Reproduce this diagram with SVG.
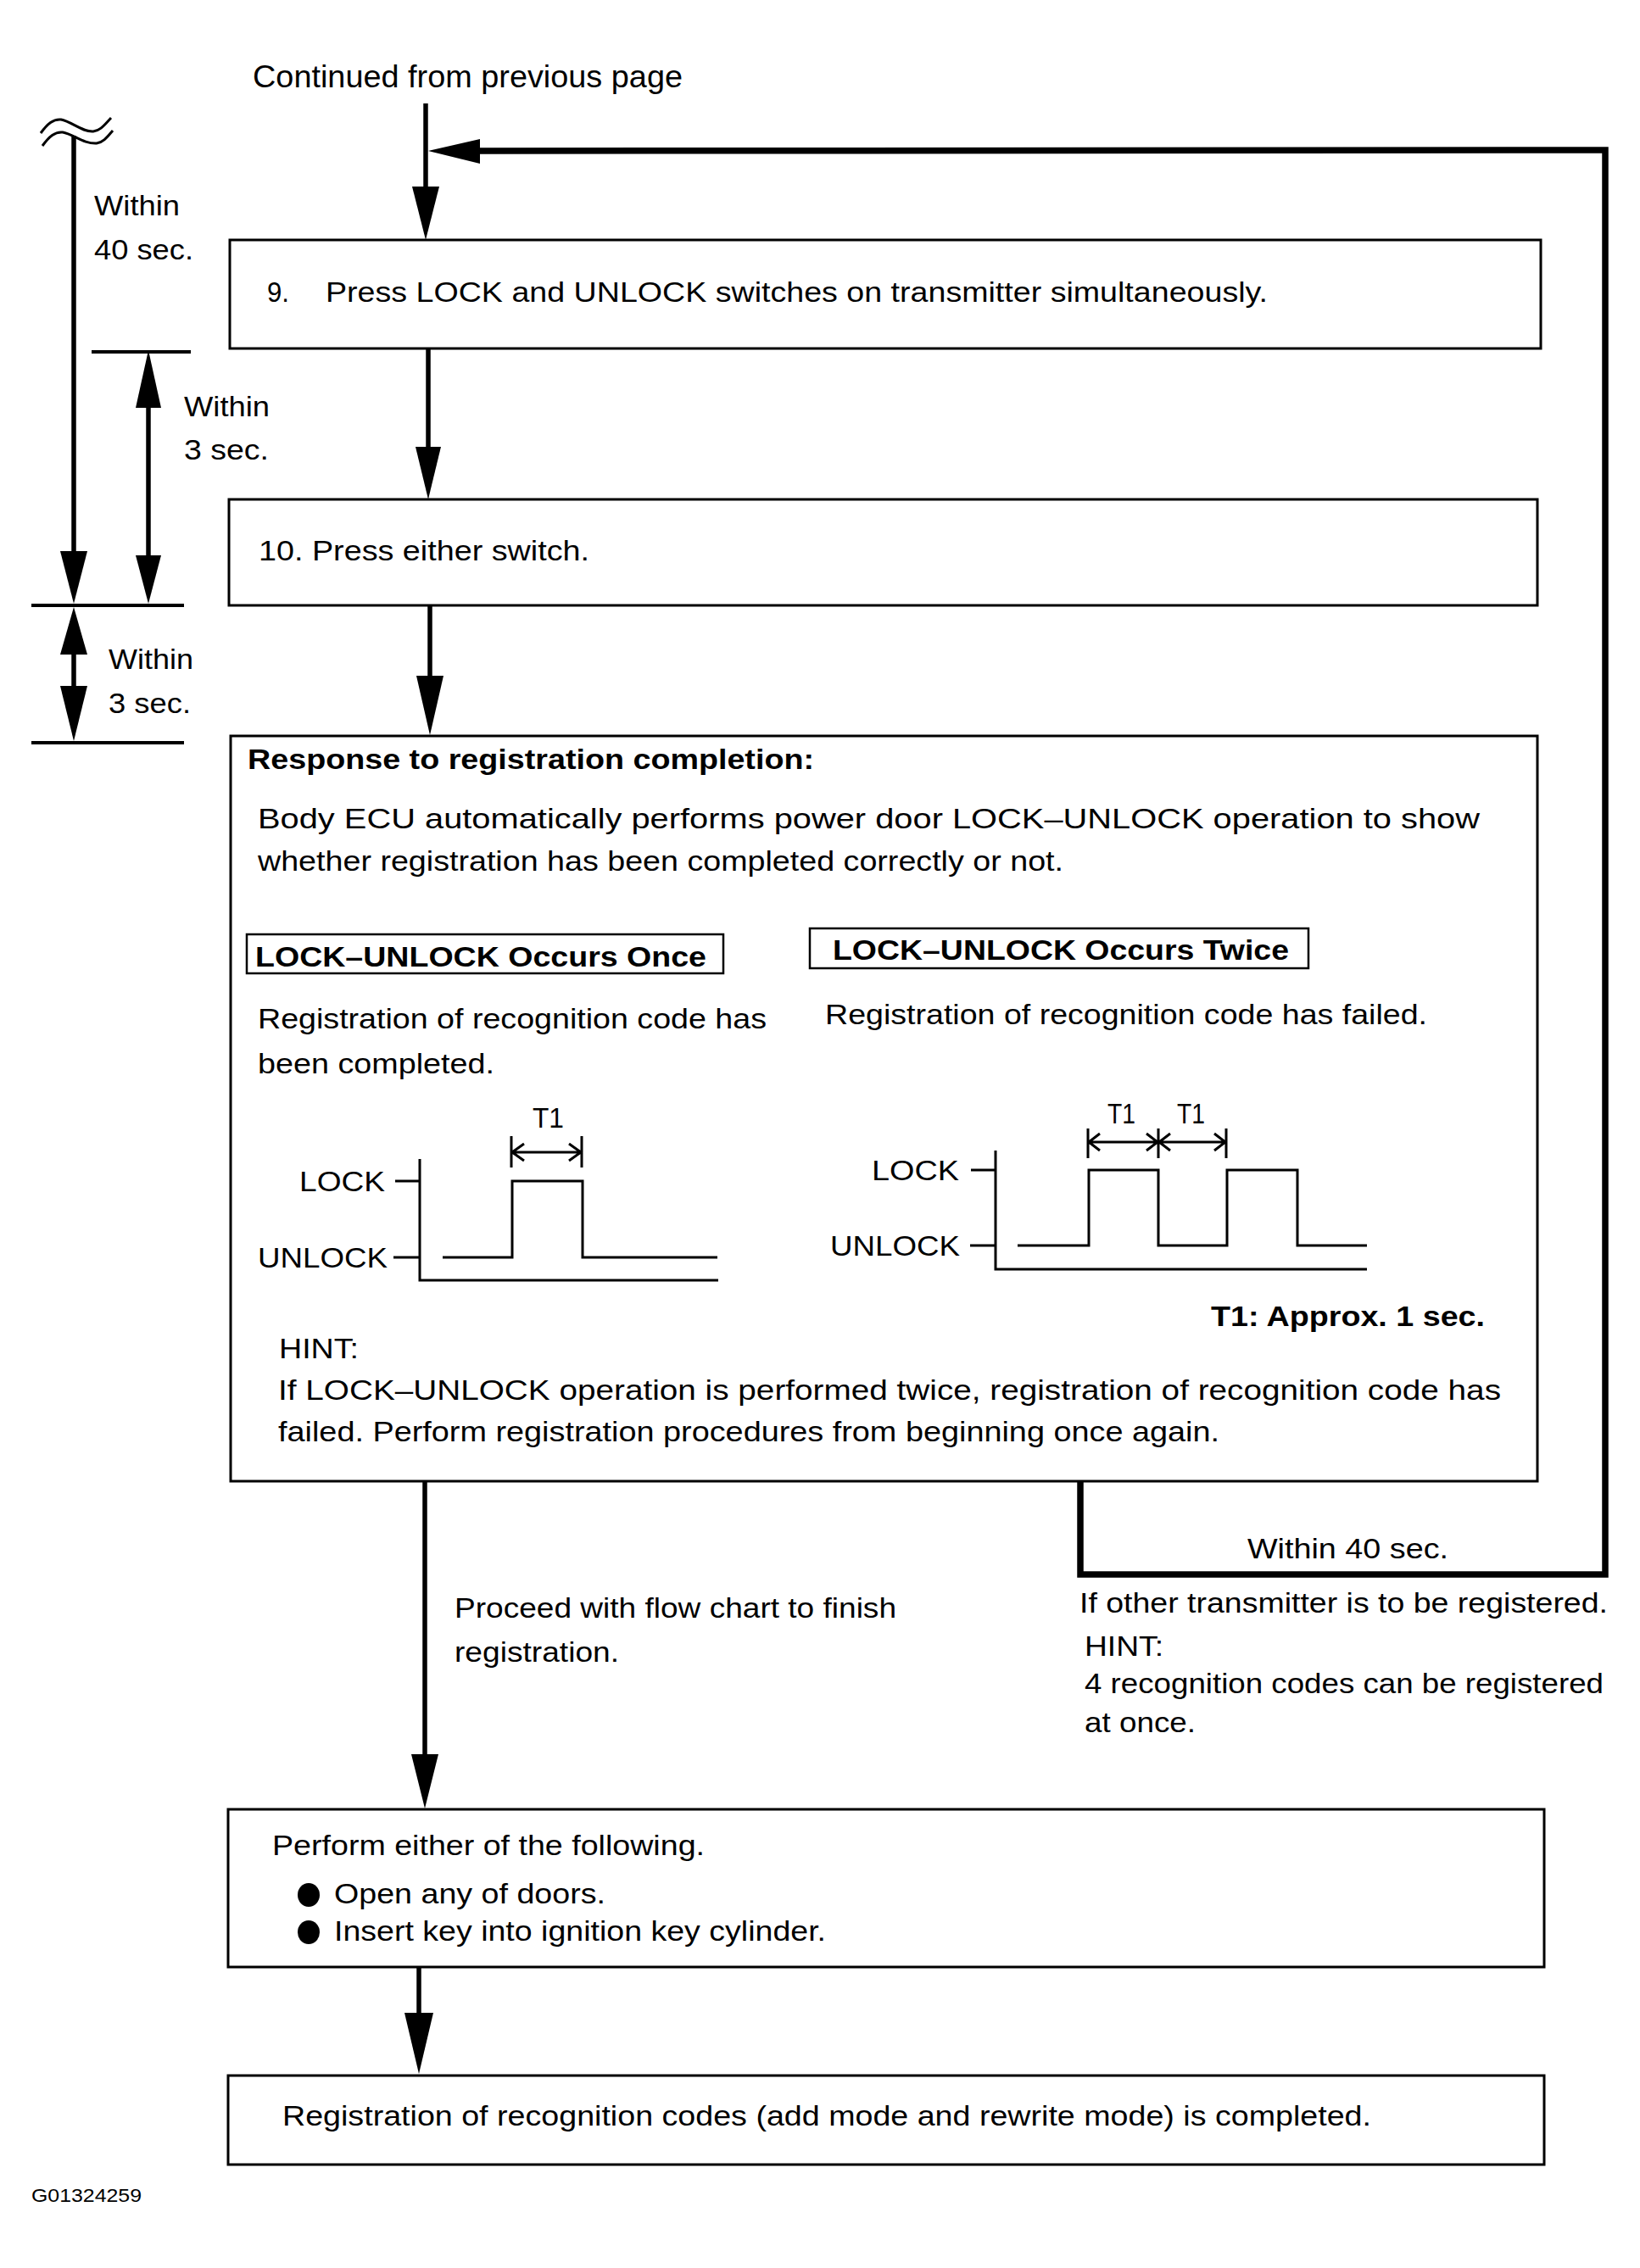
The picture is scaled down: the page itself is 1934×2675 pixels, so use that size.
<svg xmlns="http://www.w3.org/2000/svg" width="1934" height="2675" viewBox="0 0 1934 2675">
<style>
.t{font-family:"Liberation Sans",Arial,Helvetica,sans-serif;font-size:34px;fill:#000}
.b{font-weight:bold;font-size:33px}
.sm{font-size:22px}
.box{fill:#fff;stroke:#000;stroke-width:3}
.lbl{fill:none;stroke:#000;stroke-width:2.5}
.ln{fill:none;stroke:#000;stroke-width:5.5}
.th{fill:none;stroke:#000;stroke-width:4}
.wv{fill:none;stroke:#000;stroke-width:3}
.loop{fill:none;stroke:#000;stroke-width:7.5;stroke-linejoin:miter}
.ah{fill:#000;stroke:none}
</style>
<rect width="1934" height="2675" fill="#fff"/>

<g id="connectors">
  <!-- Continued -> 9 -->
  <line class="ln" x1="502" y1="122" x2="502" y2="224"/>
  <polygon class="ah" points="486,220 518,220 502,283"/>
  <!-- 9 -> 10 -->
  <line class="ln" x1="505" y1="411" x2="505" y2="530"/>
  <polygon class="ah" points="490,527 520,527 505,589"/>
  <!-- 10 -> Response -->
  <line class="ln" x1="507" y1="714" x2="507" y2="800"/>
  <polygon class="ah" points="491,797 523,797 507,867"/>
  <!-- Response -> Perform -->
  <line class="ln" x1="501" y1="1747" x2="501" y2="2072"/>
  <polygon class="ah" points="485,2069 517,2069 501,2133"/>
  <!-- Perform -> Final -->
  <line class="ln" x1="494" y1="2320" x2="494" y2="2378"/>
  <polygon class="ah" points="477,2374 511,2374 494,2446"/>
  <!-- return loop -->
  <polyline class="loop" points="1274,1747 1274,1857 1893,1857 1893,177 560,178"/>
  <polygon class="ah" points="505,178 566,164 566,193"/>
</g>

<g id="timing">
  <path class="wv" d="M48,157 C56,146 63,140 72,141 C84,143 97,156 110,155 C119,154 124,146 131,139"/>
  <path class="wv" d="M50,172 C58,161 65,155 74,156 C86,158 99,170 114,169 C122,168 127,161 133,154"/>
  <line class="ln" x1="87" y1="160" x2="87" y2="655"/>
  <polygon class="ah" points="71,650 103,650 87,712"/>
  <line class="th" x1="108" y1="415" x2="225" y2="415"/>
  <line class="th" x1="37" y1="714" x2="217" y2="714"/>
  <line class="th" x1="37" y1="876" x2="217" y2="876"/>
  <line class="ln" x1="175" y1="478" x2="175" y2="658"/>
  <polygon class="ah" points="175,413 160,481 190,481"/>
  <polygon class="ah" points="160,655 190,655 175,712"/>
  <line class="ln" x1="87" y1="770" x2="87" y2="812"/>
  <polygon class="ah" points="87,716 71,772 103,772"/>
  <polygon class="ah" points="71,809 103,809 87,874"/>
  <text class="t" x="111" y="254" textLength="101" lengthAdjust="spacingAndGlyphs">Within</text>
  <text class="t" x="111" y="306" textLength="117" lengthAdjust="spacingAndGlyphs">40 sec.</text>
  <text class="t" x="217" y="491" textLength="101" lengthAdjust="spacingAndGlyphs">Within</text>
  <text class="t" x="217" y="542" textLength="100" lengthAdjust="spacingAndGlyphs">3 sec.</text>
  <text class="t" x="128" y="789" textLength="100" lengthAdjust="spacingAndGlyphs">Within</text>
  <text class="t" x="128" y="841" textLength="97" lengthAdjust="spacingAndGlyphs">3 sec.</text>
</g>

<g id="start">
  <text class="t" x="298" y="103" font-size="36" style="font-size:36px" textLength="507" lengthAdjust="spacingAndGlyphs">Continued from previous page</text>
</g>

<g id="step9">
  <rect class="box" x="271" y="283" width="1546" height="128"/>
  <text class="t" x="315" y="356" textLength="26" lengthAdjust="spacingAndGlyphs">9.</text>
  <text class="t" x="384" y="356" textLength="1111" lengthAdjust="spacingAndGlyphs">Press LOCK and UNLOCK switches on transmitter simultaneously.</text>
</g>

<g id="step10">
  <rect class="box" x="270" y="589" width="1543" height="125"/>
  <text class="t" x="305" y="661" textLength="390" lengthAdjust="spacingAndGlyphs">10. Press either switch.</text>
</g>

<g id="response">
  <rect class="box" x="272" y="868" width="1541" height="879"/>
  <text class="t b" x="292" y="907" textLength="668" lengthAdjust="spacingAndGlyphs">Response to registration completion:</text>
  <text class="t" x="304" y="977" textLength="1441" lengthAdjust="spacingAndGlyphs">Body ECU automatically performs power door LOCK–UNLOCK operation to show</text>
  <text class="t" x="304" y="1027" textLength="950" lengthAdjust="spacingAndGlyphs">whether registration has been completed correctly or not.</text>

  <rect class="lbl" x="291" y="1102" width="562" height="46"/>
  <text class="t b" x="301" y="1140" textLength="532" lengthAdjust="spacingAndGlyphs">LOCK–UNLOCK Occurs Once</text>
  <rect class="lbl" x="955" y="1095" width="588" height="47"/>
  <text class="t b" x="982" y="1132" textLength="538" lengthAdjust="spacingAndGlyphs">LOCK–UNLOCK Occurs Twice</text>

  <text class="t" x="304" y="1213" textLength="600" lengthAdjust="spacingAndGlyphs">Registration of recognition code has</text>
  <text class="t" x="304" y="1266" textLength="279" lengthAdjust="spacingAndGlyphs">been completed.</text>
  <text class="t" x="973" y="1208" textLength="710" lengthAdjust="spacingAndGlyphs">Registration of recognition code has failed.</text>

  <!-- left waveform -->
  <text class="t" x="628" y="1330" textLength="37" lengthAdjust="spacingAndGlyphs">T1</text>
  <path class="wv" d="M603,1340 V1377 M686,1340 V1377 M603,1359 H686 M618,1349 L604,1359 L618,1369 M671,1349 L685,1359 L671,1369"/>
  <text class="t" x="353" y="1405" textLength="101" lengthAdjust="spacingAndGlyphs">LOCK</text>
  <text class="t" x="304" y="1495" textLength="153" lengthAdjust="spacingAndGlyphs">UNLOCK</text>
  <path class="wv" d="M466,1393 H495 M464,1483 H495 M495,1367 V1510 H847"/>
  <path class="wv" d="M522,1483 H604 V1393 H687 V1483 H846"/>

  <!-- right waveform -->
  <text class="t" x="1306" y="1325" textLength="33" lengthAdjust="spacingAndGlyphs">T1</text>
  <text class="t" x="1388" y="1325" textLength="33" lengthAdjust="spacingAndGlyphs">T1</text>
  <path class="wv" d="M1283,1331 V1366 M1366,1331 V1366 M1446,1331 V1366 M1283,1347 H1446 M1297,1337 L1284,1347 L1297,1357 M1352,1337 L1365,1347 L1352,1357 M1380,1337 L1367,1347 L1380,1357 M1432,1337 L1445,1347 L1432,1357"/>
  <text class="t" x="1028" y="1392" textLength="103" lengthAdjust="spacingAndGlyphs">LOCK</text>
  <text class="t" x="979" y="1481" textLength="153" lengthAdjust="spacingAndGlyphs">UNLOCK</text>
  <path class="wv" d="M1145,1380 H1174 M1144,1469 H1174 M1174,1357 V1497 H1612"/>
  <path class="wv" d="M1200,1469 H1284 V1380 H1366 V1469 H1447 V1380 H1530 V1469 H1612"/>

  <text class="t b" x="1428" y="1564" textLength="323" lengthAdjust="spacingAndGlyphs">T1: Approx. 1 sec.</text>
  <text class="t" x="329" y="1602" textLength="94" lengthAdjust="spacingAndGlyphs">HINT:</text>
  <text class="t" x="328" y="1651" textLength="1442" lengthAdjust="spacingAndGlyphs">If LOCK–UNLOCK operation is performed twice, registration of recognition code has</text>
  <text class="t" x="328" y="1700" textLength="1110" lengthAdjust="spacingAndGlyphs">failed. Perform registration procedures from beginning once again.</text>
</g>

<g id="labels">
  <text class="t" x="536" y="1908" textLength="521" lengthAdjust="spacingAndGlyphs">Proceed with flow chart to finish</text>
  <text class="t" x="536" y="1960" textLength="194" lengthAdjust="spacingAndGlyphs">registration.</text>
  <text class="t" x="1471" y="1838" textLength="237" lengthAdjust="spacingAndGlyphs">Within 40 sec.</text>
  <text class="t" x="1273" y="1902" textLength="623" lengthAdjust="spacingAndGlyphs">If other transmitter is to be registered.</text>
  <text class="t" x="1279" y="1953" textLength="93" lengthAdjust="spacingAndGlyphs">HINT:</text>
  <text class="t" x="1279" y="1997" textLength="612" lengthAdjust="spacingAndGlyphs">4 recognition codes can be registered</text>
  <text class="t" x="1279" y="2043" textLength="131" lengthAdjust="spacingAndGlyphs">at once.</text>
</g>

<g id="perform">
  <rect class="box" x="269" y="2134" width="1552" height="186"/>
  <text class="t" x="321" y="2188" textLength="510" lengthAdjust="spacingAndGlyphs">Perform either of the following.</text>
  <ellipse cx="364" cy="2235" rx="13" ry="14" fill="#000"/>
  <text class="t" x="394" y="2245" textLength="320" lengthAdjust="spacingAndGlyphs">Open any of doors.</text>
  <ellipse cx="364" cy="2279" rx="13" ry="14" fill="#000"/>
  <text class="t" x="394" y="2289" textLength="580" lengthAdjust="spacingAndGlyphs">Insert key into ignition key cylinder.</text>
</g>

<g id="final">
  <rect class="box" x="269" y="2448" width="1552" height="105"/>
  <text class="t" x="333" y="2507" textLength="1284" lengthAdjust="spacingAndGlyphs">Registration of recognition codes (add mode and rewrite mode) is completed.</text>
</g>

<g id="figid">
  <text class="t sm" x="37" y="2597" textLength="130" lengthAdjust="spacingAndGlyphs">G01324259</text>
</g>
</svg>
